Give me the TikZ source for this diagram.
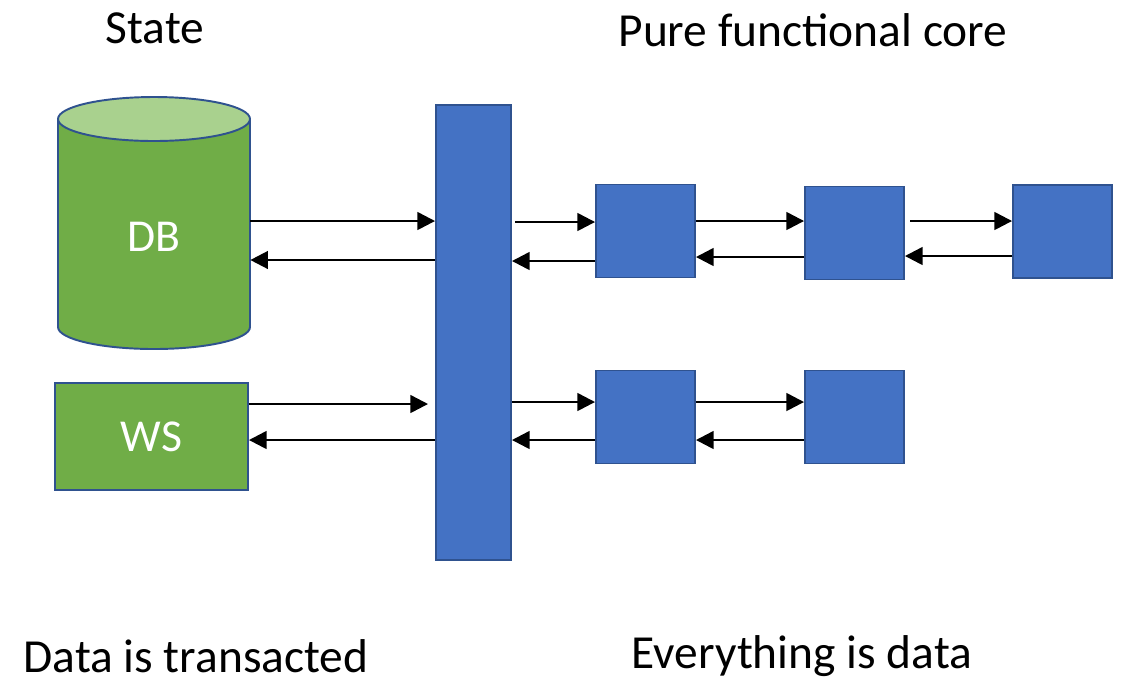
\documentclass[tikz,border=0pt]{standalone}
\usepackage{fontspec}
\setmainfont{Carlito}
\usetikzlibrary{arrows.meta,positioning,calc}
\definecolor{stgreen}{HTML}{70AD47}
\definecolor{stlight}{HTML}{A9D18E}
\definecolor{coreblue}{HTML}{4472C4}
\definecolor{edgeblue}{HTML}{2F528F}

\begin{document}
\begin{tikzpicture}[x=0.02cm,y=0.02cm,>={Triangle[length=10pt,width=10pt]},
  arr/.style={->,line width=1.4pt},
  core/.style={draw=edgeblue,line width=1.1pt,fill=coreblue,minimum width=1.98cm,minimum height=1.86cm},
  big/.style={inner sep=0pt,font=\fontsize{27}{32}\selectfont}]
\useasboundingbox (0,0) rectangle (1128,-681);
% database cylinder
\filldraw[fill=stgreen,draw=edgeblue,line width=1.1pt] (58,-119) -- (58,-327) arc (180:360:96 and 22) -- (250,-119) -- cycle;
\filldraw[fill=stlight,draw=edgeblue,line width=1.1pt] (154,-119) ellipse (96 and 22);
\node[minimum width=3.84cm,minimum height=4.5cm,text=white,font=\fontsize{26}{30}\selectfont] (db) at (154,-237) {DB};
\node[draw=edgeblue,line width=1.1pt,fill=stgreen,minimum width=3.86cm,minimum height=2.14cm,text=white,font=\fontsize{26}{30}\selectfont] (ws) at (151.5,-436.5) {WS};
\node[draw=edgeblue,line width=1.1pt,fill=coreblue,minimum width=1.5cm,minimum height=9.1cm] (bar) at (473.5,-332.5) {};
\node[core] (f1) at (645.5,-231) {}; \node[core] (f2) at (854.5,-233) {}; \node[core] (f3) at (1062.5,-231.5) {};
\node[core] (g1) at (645.5,-417) {}; \node[core] (g2) at (854.5,-417) {};
% arrows
\draw[arr] (db.east |- 0,-221)--(bar.west |- 0,-221); \draw[arr] (bar.west |- 0,-260)--(db.east |- 0,-260);
\draw[arr] (ws.east |- 0,-404)--([xshift=-4]bar.west |- 0,-404); \draw[arr] (bar.west |- 0,-440)--(ws.east |- 0,-440);
\draw[arr] ([xshift=2]bar.east |- 0,-222)--(f1.west |- 0,-222); \draw[arr] (f1.west |- 0,-261)--(bar.east |- 0,-261);
\draw[arr] (f1.east |- 0,-221)--(f2.west |- 0,-221); \draw[arr] (f2.west |- 0,-257)--(f1.east |- 0,-257);
\draw[arr] ([xshift=3]f2.east |- 0,-221)--(f3.west |- 0,-221); \draw[arr] (f3.west |- 0,-256)--(f2.east |- 0,-256);
\draw[arr] (bar.east |- 0,-402)--(g1.west |- 0,-402); \draw[arr] (g1.west |- 0,-440)--(bar.east |- 0,-440);
\draw[arr] (g1.east |- 0,-402)--(g2.west |- 0,-402); \draw[arr] (g2.west |- 0,-440)--(g1.east |- 0,-440);
% captions
\node[big] (state) at (155,-28) {State};
\node[big] (pure) at (813,-30) {Pure functional core};
\node[big] (trans) at (196,-656) {Data is transacted};
\node[big] (every) at (802,-656) {Everything is data};
\end{tikzpicture}
\end{document}
